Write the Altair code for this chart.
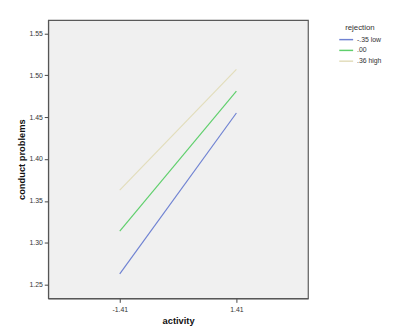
import altair as alt
import pandas as pd

activity = [-1.41, 1.41]
groups = ["-.35 low", ".00", ".36 high"]
low_vals = [1.263, 1.455]
mid_vals = [1.314, 1.481]
high_vals = [1.363, 1.507]
colors = ["#6f82d2", "#5fcf6c", "#e2ddbb"]

rows = []
for g, vals in zip(groups, [low_vals, mid_vals, high_vals]):
    for a, v in zip(activity, vals):
        rows.append({"activity": a, "conduct": v, "rejection": g})
df = pd.DataFrame(rows)

chart = alt.Chart(df).mark_line(strokeWidth=1.2, clip=True).encode(
    x=alt.X("activity:Q",
            scale=alt.Scale(domain=[-3.14, 3.14], nice=False, zero=False),
            axis=alt.Axis(title="activity", values=activity, grid=False,
                          labelExpr="replace(format(datum.value,'.2f'),'\u2212','-')",
                          labelFontSize=7, labelColor="#333333", labelPadding=3,
                          titleFontSize=9.5, titleFontWeight="bold", titleColor="#111111",
                          titlePadding=4, tickSize=4, tickColor="#444444",
                          domainColor="#555555")),
    y=alt.Y("conduct:Q",
            scale=alt.Scale(domain=[1.2336, 1.566], nice=False, zero=False),
            axis=alt.Axis(title="conduct problems", values=[1.25, 1.30, 1.35, 1.40, 1.45, 1.50, 1.55],
                          format=".2f", grid=False,
                          labelFontSize=7, labelColor="#333333", labelPadding=2,
                          titleFontSize=9.5, titleFontWeight="bold", titleColor="#111111",
                          titlePadding=3, tickSize=4, tickColor="#444444",
                          domainColor="#555555")),
    color=alt.Color("rejection:N",
                    scale=alt.Scale(domain=groups, range=colors),
                    legend=alt.Legend(title="rejection", orient="none", legendX=296, legendY=4,
                                      symbolType="stroke", symbolSize=200, symbolStrokeWidth=1.5,
                                      labelFontSize=7, titleFontSize=8, titleFontWeight="normal",
                                      titleColor="#333333", labelColor="#333333",
                                      rowPadding=-6, titlePadding=0, labelOffset=3,
                                      titleAnchor="middle")),
).properties(
    width=265, height=284,
    autosize=alt.AutoSizeParams(type="none"),
    padding={"left": 41, "top": 9, "right": 100, "bottom": 31},
    background="white",
).configure(
    font="Liberation Sans",
    view=alt.ViewConfig(fill="#f0f0f0", stroke="#5a5a5a", strokeWidth=1.2),
)

chart.save("out.html", embed_options={"renderer": "svg", "actions": False})
